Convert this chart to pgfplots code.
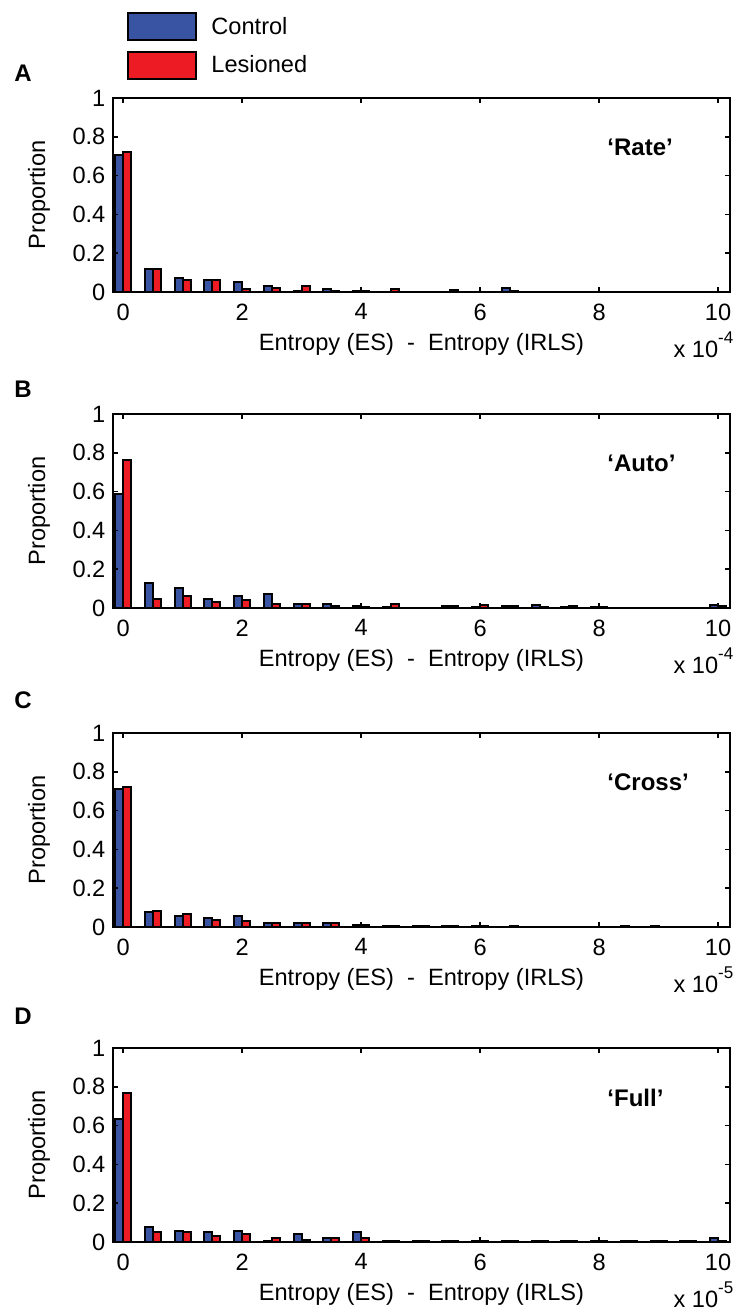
\documentclass[border=0pt]{standalone}
\usepackage{fontspec}
\setmainfont{Liberation Sans}
\usepackage{pgfplots}
\pgfplotsset{compat=1.18}
\usepackage{pgfplotstable}
\definecolor{ctrl}{RGB}{58,84,164}
\definecolor{les}{RGB}{237,28,36}

% x = bin centre (x 10^-4 or 10^-5), a = Control, b = Lesioned
\pgfplotstableread{
x a b
0 0.707 0.724
0.5 0.117 0.117
1 0.072 0.062
1.5 0.062 0.062
2 0.052 0.014
2.5 0.031 0.022
3 0.003 0.031
3.5 0.017 0.003
4 0.005 0.005
4.5 0 0.014
5 0 0
5.5 0 0.012
6 0 0
6.5 0.02 0.003
7 0 0
7.5 0 0
8 0 0
8.5 0 0
9 0 0
9.5 0 0
10 0 0
}\dataA
\pgfplotstableread{
x a b
0 0.587 0.763
0.5 0.129 0.048
1 0.105 0.060
1.5 0.048 0.031
2 0.060 0.041
2.5 0.070 0.019
3 0.019 0.019
3.5 0.019 0.010
4 0.008 0.005
4.5 0.003 0.019
5 0 0
5.5 0.008 0.008
6 0.005 0.015
6.5 0.008 0.008
7 0.018 0.003
7.5 0.003 0.008
8 0.005 0.005
8.5 0 0
9 0 0
9.5 0 0
10 0.018 0.010
}\dataB
\pgfplotstableread{
x a b
0 0.713 0.722
0.5 0.075 0.085
1 0.057 0.066
1.5 0.045 0.035
2 0.057 0.033
2.5 0.019 0.019
3 0.019 0.019
3.5 0.019 0.019
4 0.009 0.009
4.5 0.003 0.005
5 0.005 0.005
5.5 0.005 0.005
6 0.005 0.005
6.5 0 0.005
7 0 0
7.5 0 0
8 0 0
8.5 0.005 0
9 0.005 0
9.5 0 0
10 0 0
}\dataC
\pgfplotstableread{
x a b
0 0.636 0.768
0.5 0.076 0.051
1 0.056 0.051
1.5 0.051 0.029
2 0.056 0.039
2.5 0.007 0.020
3 0.039 0.012
3.5 0.020 0.020
4 0.051 0.020
4.5 0.007 0.007
5 0.007 0.007
5.5 0.007 0.003
6 0.003 0.007
6.5 0.007 0.007
7 0.003 0.007
7.5 0.007 0.007
8 0.007 0.007
8.5 0.007 0.007
9 0.007 0.007
9.5 0.007 0.007
10 0.020 0.007
}\dataD

\tikzset{
  lett/.style={font=\bfseries\fontsize{12}{14}\selectfont},
  tagf/.style={font=\bfseries\fontsize{12}{14}\selectfont, anchor=west},
  scl/.style={anchor=base east, inner sep=0pt},
}
\newcommand{\sclab}[1]{x 10\raisebox{7pt}{\fontsize{8.5}{9}\selectfont #1}}
\pgfplotsset{
  panel/.style={
    scale only axis, width=308.5pt, height=97pt, anchor=north west,
    xmin=-0.17, xmax=10.2, ymin=0, ymax=1,
    xtick={0,2,4,6,8,10}, xticklabels={0,2,4,6,8,10},
    ytick={0,0.2,0.4,0.6,0.8,1}, yticklabels={0,0.2,0.4,0.6,0.8,1},
    tick align=inside, major tick length=2.5pt,
    every tick/.style={black, line width=0.8pt},
    axis line style={line width=1.2pt},
    axis on top,
    xlabel={Entropy (ES)\ \ -\ \ Entropy (IRLS)},
    ylabel={Proportion},
    every axis x label/.style={at={(axis description cs:0.5,-0.268)}, anchor=center},
    every axis y label/.style={at={(axis description cs:-0.12,0.5)}, anchor=center, rotate=90},
    yticklabel style={xshift=-0.3pt},
    xticklabel style={yshift=-2.3pt},
  },
  cbar/.style={ybar, bar width=0.135, bar shift=-0.0675, fill=ctrl, draw=black, line width=1pt, forget plot},
  lbar/.style={ybar, bar width=0.135, bar shift=0.0675, fill=les, draw=black, line width=1pt, forget plot},
}

\begin{document}
\begin{tikzpicture}[font=\fontsize{11.8}{14}\selectfont]
\useasboundingbox (0,0) rectangle (368.5pt,-656pt);

\begin{axis}[panel, at={(56.5pt,-49pt)},
  legend style={draw=none, fill=none, inner sep=0pt, at={(axis description cs:0.0227,1.443)}, anchor=north west,
    row sep=4.75pt, nodes={inner sep=1pt}, /tikz/every odd column/.append style={column sep=6pt}},
  legend cell align=left,
  extra description/.code={
    \node[lett] at (-0.146,1.126) {A};
    \node[tagf] at (0.79,0.745) {‘Rate’};
    \node[scl] at (1.006,-0.34) {\sclab{-4}};
  }]
\addplot[cbar] table[x=x,y=a]{\dataA};
\addplot[lbar] table[x=x,y=b]{\dataA};
\addlegendimage{legend image code/.code={\draw[fill=ctrl,draw=black,line width=1pt] (0pt,-6.75pt) rectangle (34pt,6.75pt);}}
\addlegendentry{Control}
\addlegendimage{legend image code/.code={\draw[fill=les,draw=black,line width=1pt] (0pt,-6.75pt) rectangle (34pt,6.75pt);}}
\addlegendentry{Lesioned}
\end{axis}

\begin{axis}[panel, at={(56.5pt,-207pt)},
  extra description/.code={
    \node[lett] at (-0.146,1.126) {B};
    \node[tagf] at (0.79,0.745) {‘Auto’};
    \node[scl] at (1.006,-0.34) {\sclab{-4}};
  }]
\addplot[cbar] table[x=x,y=a]{\dataB};
\addplot[lbar] table[x=x,y=b]{\dataB};
\end{axis}

\begin{axis}[panel, at={(56.5pt,-366.5pt)},
  extra description/.code={
    \node[lett] at (-0.146,1.17) {C};
    \node[tagf] at (0.79,0.745) {‘Cross’};
    \node[scl] at (1.006,-0.34) {\sclab{-5}};
  }]
\addplot[cbar] table[x=x,y=a]{\dataC};
\addplot[lbar] table[x=x,y=b]{\dataC};
\end{axis}

\begin{axis}[panel, at={(56.5pt,-524pt)},
  extra description/.code={
    \node[lett] at (-0.146,1.165) {D};
    \node[tagf] at (0.79,0.745) {‘Full’};
    \node[scl] at (1.006,-0.34) {\sclab{-5}};
  }]
\addplot[cbar] table[x=x,y=a]{\dataD};
\addplot[lbar] table[x=x,y=b]{\dataD};
\end{axis}
\end{tikzpicture}
\end{document}
